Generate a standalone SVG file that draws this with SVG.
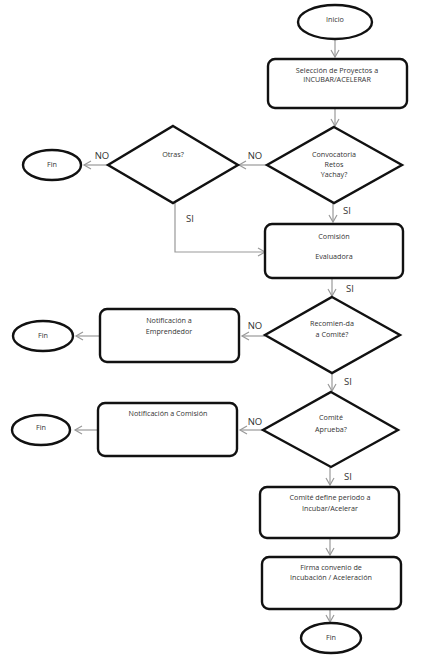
<svg xmlns="http://www.w3.org/2000/svg" width="422" height="661" viewBox="0 0 422 661">
<style>
.s{fill:#fff;stroke:#111;stroke-width:2.4}
.c{fill:none;stroke:#999;stroke-width:1.2}
.t{font-family:"Open Sans","Liberation Sans",sans-serif;font-size:7.2px;fill:#333;text-anchor:middle}
.l{font-family:"Open Sans","Liberation Sans",sans-serif;font-size:9.5px;fill:#333;text-anchor:middle}
</style>
<defs>
<marker id="a" markerWidth="10" markerHeight="10" refX="8" refY="5" orient="auto" markerUnits="userSpaceOnUse">
<path d="M1,1 L8,5 L1,9" fill="none" stroke="#999" stroke-width="1.2"/>
</marker>
</defs>
<rect width="422" height="661" fill="#fff"/>
<g id="connectors" class="c" marker-end="url(#a)">
<path d="M335,40 V57"/>
<path d="M335,108 V126"/>
<path d="M267,165 H239"/>
<path d="M108,165 H84"/>
<path d="M333,203 V222"/>
<path d="M175,203 V252 H265"/>
<path d="M332,278 V296"/>
<path d="M265,336 H242"/>
<path d="M100,336 H76"/>
<path d="M332,373 V391"/>
<path d="M263,430 H240"/>
<path d="M98,430 H75"/>
<path d="M330,467 V485"/>
<path d="M330,538 V555"/>
<path d="M330,609 V622"/>
</g>
<g id="labels">
<text class="l" x="102" y="159">NO</text>
<text class="l" x="255" y="159">NO</text>
<text class="l" x="190" y="222">SI</text>
<text class="l" x="347" y="214">SI</text>
<text class="l" x="350" y="292">SI</text>
<text class="l" x="255" y="329">NO</text>
<text class="l" x="348" y="385">SI</text>
<text class="l" x="255" y="425">NO</text>
<text class="l" x="348" y="480">SI</text>
</g>
<g id="inicio"><ellipse class="s" cx="335" cy="22" rx="37" ry="17"/><text class="t" x="335" y="22">Inicio</text></g>
<g id="seleccion"><rect class="s" x="268" y="59" width="139" height="49" rx="7"/><text class="t" x="337" y="73">Selección de Proyectos a</text><text class="t" x="337" y="82">INCUBAR/ACELERAR</text></g>
<g id="convocatoria"><polygon class="s" points="334,127 402,165 334,203 267,165"/><text class="t" x="334" y="157">Convocatoria</text><text class="t" x="334" y="167">Retos</text><text class="t" x="334" y="177">Yachay?</text></g>
<g id="otras"><polygon class="s" points="173,126 238,165 173,203 108,165"/><text class="t" x="173" y="157">Otras?</text></g>
<g id="fin1"><ellipse class="s" cx="52" cy="165" rx="29" ry="15"/><text class="t" x="52" y="167">Fin</text></g>
<g id="comision"><rect class="s" x="265" y="224" width="138" height="54" rx="7"/><text class="t" x="334" y="239">Comisión</text><text class="t" x="334" y="259">Evaluadora</text></g>
<g id="recomienda"><polygon class="s" points="332,297 400,335 332,373 265,335"/><text class="t" x="332" y="326">Recomien-da</text><text class="t" x="332" y="337">a Comité?</text></g>
<g id="notif-emprendedor"><rect class="s" x="100" y="309" width="139" height="53" rx="7"/><text class="t" x="169" y="323">Notificación a</text><text class="t" x="169" y="334">Emprendedor</text></g>
<g id="fin2"><ellipse class="s" cx="43" cy="336" rx="30" ry="15"/><text class="t" x="43" y="338">Fin</text></g>
<g id="aprueba"><polygon class="s" points="331,392 398,430 331,467 263,430"/><text class="t" x="331" y="420">Comité</text><text class="t" x="331" y="432">Aprueba?</text></g>
<g id="notif-comision"><rect class="s" x="98" y="403" width="139" height="53" rx="7"/><text class="t" x="168" y="416">Notificación a Comisión</text></g>
<g id="fin3"><ellipse class="s" cx="41" cy="430" rx="29" ry="15"/><text class="t" x="41" y="430">Fin</text></g>
<g id="define"><rect class="s" x="260" y="487" width="139" height="51" rx="7"/><text class="t" x="330" y="500">Comité define periodo  a</text><text class="t" x="330" y="511">Incubar/Acelerar</text></g>
<g id="firma"><rect class="s" x="262" y="557" width="139" height="52" rx="7"/><text class="t" x="331" y="570">Firma convenio de</text><text class="t" x="331" y="580">Incubación / Aceleración</text></g>
<g id="fin4"><ellipse class="s" cx="331" cy="638" rx="30" ry="15"/><text class="t" x="331" y="640">Fin</text></g>
</svg>
